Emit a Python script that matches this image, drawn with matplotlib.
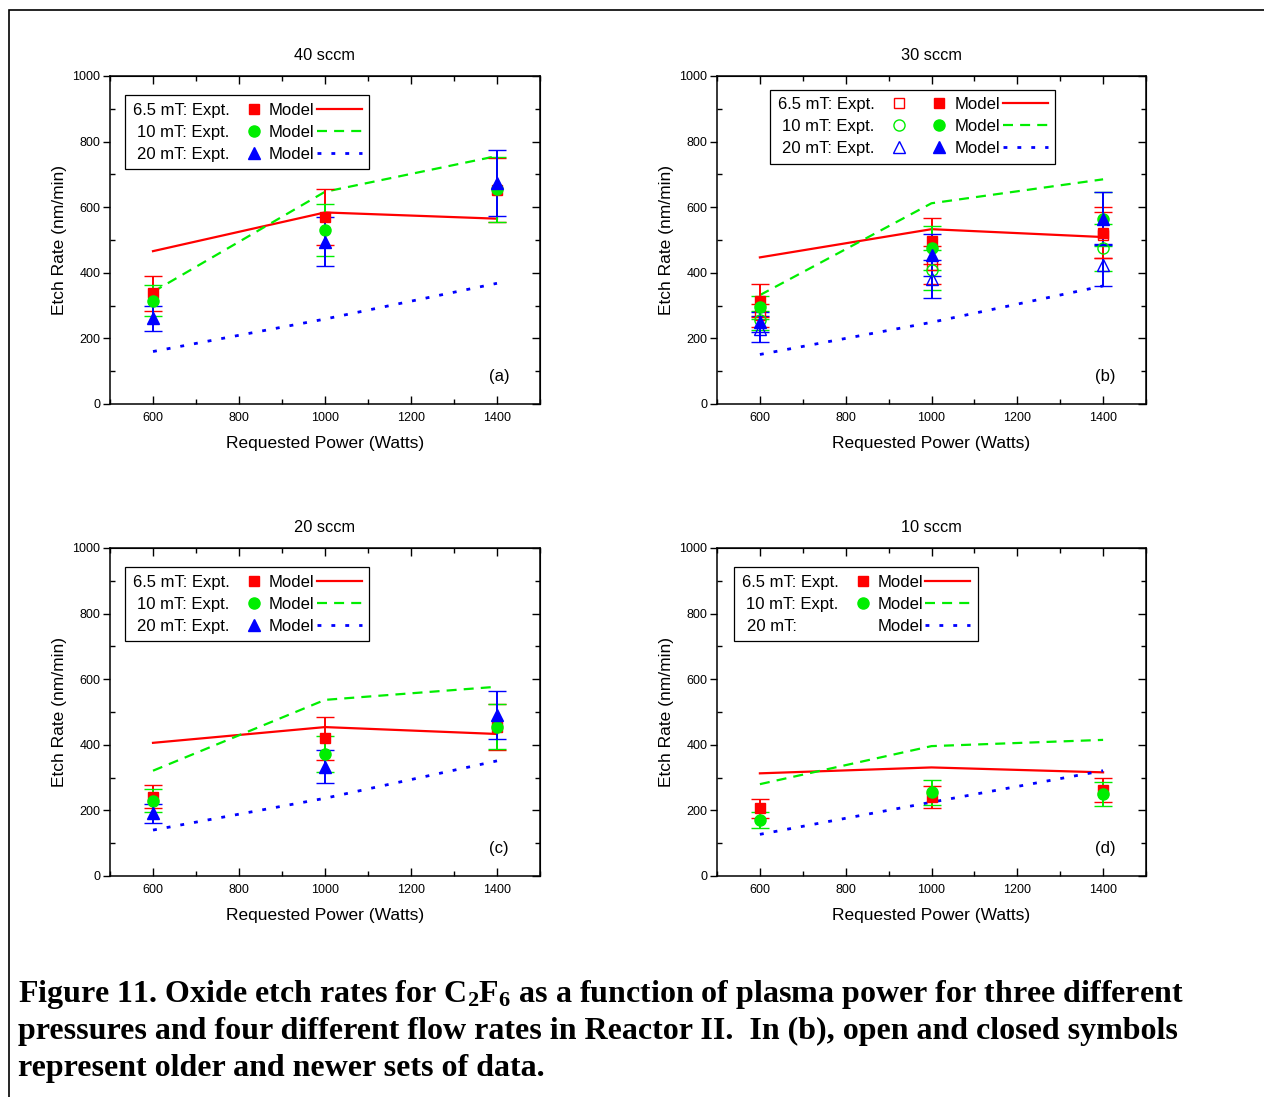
import matplotlib
matplotlib.use('Agg')
import matplotlib.pyplot as plt
from matplotlib.lines import Line2D
from matplotlib.patches import Rectangle
from matplotlib.ticker import MultipleLocator

plt.rcParams['font.family'] = ['Liberation Sans', 'DejaVu Sans']
plt.rcParams['mathtext.fontset'] = 'custom'
plt.rcParams['mathtext.rm'] = 'Liberation Serif:bold'
plt.rcParams['mathtext.it'] = 'Liberation Serif:bold'
plt.rcParams['mathtext.bf'] = 'Liberation Serif:bold'

# ---------------- data ----------------
power = [600, 1000, 1400]

titles = ["40 sccm", "30 sccm", "20 sccm", "10 sccm"]
panel_tags = ["(a)", "(b)", "(c)", "(d)"]

# (a) 40 sccm
a_model_65 = [466, 584, 565]
a_model_10 = [342, 647, 756]
a_model_20 = [160, 259, 368]
a_expt_65 = [337, 571, 652]
a_err_65 = [52, 85, 98]
a_expt_10 = [315, 530, 654]
a_err_10 = [47, 80, 98]
a_expt_20 = [261, 495, 673]
a_err_20 = [38, 74, 101]

# (b) 30 sccm  (new = closed symbols, old = open symbols)
b_model_65 = [447, 533, 509]
b_model_10 = [332, 612, 685]
b_model_20 = [151, 249, 360]
b_new_65 = [315, 498, 522]
b_new_err_65 = [50, 70, 78]
b_new_10 = [295, 476, 563]
b_new_err_10 = [35, 68, 82]
b_new_20 = [250, 454, 565]
b_new_err_20 = [30, 64, 80]
b_old_65 = [270, 424, 515]
b_old_err_65 = [35, 58, 70]
b_old_10 = [255, 408, 477]
b_old_err_10 = [30, 61, 71]
b_old_20 = [228, 381, 424]
b_old_err_20 = [40, 57, 64]

# (c) 20 sccm
c_model_65 = [406, 454, 433]
c_model_10 = [321, 537, 577]
c_model_20 = [140, 237, 351]
c_expt_65 = [242, 420, 455]
c_err_65 = [35, 65, 70]
c_expt_10 = [230, 372, 455]
c_err_10 = [35, 55, 68]
c_expt_20 = [191, 333, 491]
c_err_20 = [28, 50, 72]

# (d) 10 sccm
d_model_65 = [313, 331, 316]
d_model_10 = [280, 396, 415]
d_model_20 = [127, 225, 321]
d_expt_65 = [206, 240, 262]
d_err_65 = [30, 34, 37]
d_expt_10 = [171, 255, 249]
d_err_10 = [25, 38, 37]

caption_lines = [
    "Figure 11. Oxide etch rates for C$_2$F$_6$ as a function of plasma power for three different",
    "pressures and four different flow rates in Reactor II.  In (b), open and closed symbols",
    "represent older and newer sets of data.",
]

# ---------------- styles ----------------
RED = '#ff0000'
GREEN = '#00ee00'
BLUE = '#0000ff'
LS_65 = '-'
LS_10 = (0, (4.5, 3.2))
LS_20 = (0, (1.4, 3.6))
LW_65, LW_10, LW_20 = 1.6, 1.6, 2.0
LEG_FS = 12

W, H = 1264, 1097
fig = plt.figure(figsize=(W / 100, H / 100), dpi=100)


def px_axes(l, t, r, b):
    return fig.add_axes([l / W, 1 - b / H, (r - l) / W, (b - t) / H])


def style_axes(ax, title, tag):
    ax.set_xlim(500, 1500)
    ax.set_ylim(0, 1000)
    ax.xaxis.set_major_locator(MultipleLocator(200))
    ax.xaxis.set_minor_locator(MultipleLocator(100))
    ax.yaxis.set_major_locator(MultipleLocator(200))
    ax.yaxis.set_minor_locator(MultipleLocator(100))
    ax.tick_params(axis='x', which='both', direction='in', top=False, bottom=True,
                   labelsize=9, pad=6)
    ax.tick_params(axis='x', which='major', length=6, width=1)
    ax.tick_params(axis='x', which='minor', length=3.5, width=1)
    ax.tick_params(axis='y', which='major', direction='out', length=5, width=1,
                   labelsize=9, right=False, pad=2)
    ax.tick_params(axis='y', which='minor', direction='in', length=3.5, width=1,
                   right=False)
    for s in ax.spines.values():
        s.set_linewidth(1.1)
    sx = ax.secondary_xaxis('top')
    sx.xaxis.set_major_locator(MultipleLocator(200))
    sx.xaxis.set_minor_locator(MultipleLocator(100))
    sx.tick_params(axis='x', which='both', direction='in', labeltop=False, width=1)
    sx.tick_params(axis='x', which='major', length=6)
    sx.tick_params(axis='x', which='minor', length=3.5)
    sy = ax.secondary_yaxis('right')
    sy.yaxis.set_major_locator(MultipleLocator(200))
    sy.yaxis.set_minor_locator(MultipleLocator(100))
    sy.tick_params(axis='y', which='both', direction='in', labelright=False, width=1)
    sy.tick_params(axis='y', which='major', length=6)
    sy.tick_params(axis='y', which='minor', length=3.5)
    ax.set_title(title, fontsize=11.8, pad=11.5)
    ax.set_xlabel("Requested Power (Watts)", fontsize=12.5, labelpad=8.5)
    ax.set_ylabel("Etch Rate (nm/min)", fontsize=12.5, labelpad=3.5)
    ax.text(0.905, 0.085, tag, transform=ax.transAxes, fontsize=12,
            ha='center', va='center')


def models(ax, m65, m10, m20):
    ax.plot(power, m65, color=RED, ls=LS_65, lw=LW_65, zorder=2)
    ax.plot(power, m10, color=GREEN, ls=LS_10, lw=LW_10, zorder=2)
    ax.plot(power, m20, color=BLUE, ls=LS_20, lw=LW_20, dash_capstyle='butt', zorder=2)


def expt(ax, y, err, color, marker, ms, filled=True):
    ax.errorbar(power, y, yerr=err, fmt=marker, color=color, ms=ms,
                mfc=color if filled else 'none', mec=color,
                mew=1.0, capsize=6.5, elinewidth=1.4, capthick=1.4, zorder=3)


def make_legend(ax, handles, labels, ncol, anchor, colsp):
    leg = ax.legend(handles, labels, ncol=ncol, markerfirst=False, loc='upper left',
                    bbox_to_anchor=anchor, borderaxespad=0, fontsize=LEG_FS,
                    handlelength=2.7, handletextpad=0.12, columnspacing=colsp,
                    labelspacing=0.42, borderpad=0.45, fancybox=False,
                    edgecolor='black', framealpha=1)
    leg.get_frame().set_linewidth(0.9)
    return leg


def legend_std(ax, anchor, third_expt=True):
    h = [
        Line2D([], [], ls='none', marker='s', color=RED, ms=7),
        Line2D([], [], ls='none', marker='o', color=GREEN, ms=8),
        Line2D([], [], ls='none', marker='^' if third_expt else None, color=BLUE, ms=8),
        Line2D([], [], color=RED, ls=LS_65, lw=LW_65),
        Line2D([], [], color=GREEN, ls=LS_10, lw=LW_10),
        Line2D([], [], color=BLUE, ls=LS_20, lw=LW_20, dash_capstyle='butt'),
    ]
    lab3 = "20 mT: Expt." if third_expt else "20 mT:" + " " * 9
    labels = ["6.5 mT: Expt.", "10 mT: Expt.", lab3, "Model", "Model", "Model"]
    return make_legend(ax, h, labels, 2, anchor, -0.47)


# ---------------- panel (a) ----------------
ax = px_axes(110, 76, 540, 404)
models(ax, a_model_65, a_model_10, a_model_20)
expt(ax, a_expt_65, a_err_65, RED, 's', 7)
expt(ax, a_expt_10, a_err_10, GREEN, 'o', 8)
expt(ax, a_expt_20, a_err_20, BLUE, '^', 8)
style_axes(ax, titles[0], panel_tags[0])
legend_std(ax, (0.036, 0.942))

# ---------------- panel (b) ----------------
ax = px_axes(717, 76, 1146, 404)
models(ax, b_model_65, b_model_10, b_model_20)
expt(ax, b_old_65, b_old_err_65, RED, 's', 7, filled=False)
expt(ax, b_old_10, b_old_err_10, GREEN, 'o', 8, filled=False)
expt(ax, b_old_20, b_old_err_20, BLUE, '^', 8, filled=False)
expt(ax, b_new_65, b_new_err_65, RED, 's', 7)
expt(ax, b_new_10, b_new_err_10, GREEN, 'o', 8)
expt(ax, b_new_20, b_new_err_20, BLUE, '^', 8)
style_axes(ax, titles[1], panel_tags[1])
hb = [
    Line2D([], [], ls='none', marker='s', color=RED, mfc='none', ms=7),
    Line2D([], [], ls='none', marker='o', color=GREEN, mfc='none', ms=8),
    Line2D([], [], ls='none', marker='^', color=BLUE, mfc='none', ms=8),
    Line2D([], [], ls='none', marker='s', color=RED, ms=7),
    Line2D([], [], ls='none', marker='o', color=GREEN, ms=8),
    Line2D([], [], ls='none', marker='^', color=BLUE, ms=8),
    Line2D([], [], color=RED, ls=LS_65, lw=LW_65),
    Line2D([], [], color=GREEN, ls=LS_10, lw=LW_10),
    Line2D([], [], color=BLUE, ls=LS_20, lw=LW_20, dash_capstyle='butt'),
]
lb = ["6.5 mT: Expt.", "10 mT: Expt.", "20 mT: Expt.", "", "", "",
      "Model", "Model", "Model"]
make_legend(ax, hb, lb, 3, (0.124, 0.958), -0.4)

# ---------------- panel (c) ----------------
ax = px_axes(110, 548, 540, 876)
models(ax, c_model_65, c_model_10, c_model_20)
expt(ax, c_expt_65, c_err_65, RED, 's', 7)
expt(ax, c_expt_10, c_err_10, GREEN, 'o', 8)
expt(ax, c_expt_20, c_err_20, BLUE, '^', 8)
style_axes(ax, titles[2], panel_tags[2])
legend_std(ax, (0.036, 0.942))

# ---------------- panel (d) ----------------
ax = px_axes(717, 548, 1146, 876)
models(ax, d_model_65, d_model_10, d_model_20)
expt(ax, d_expt_65, d_err_65, RED, 's', 7)
expt(ax, d_expt_10, d_err_10, GREEN, 'o', 8)
style_axes(ax, titles[3], panel_tags[3])
legend_std(ax, (0.040, 0.942), third_expt=False)

# ---------------- frame & caption ----------------
fig.patches.append(Rectangle((9 / W, -0.05), 1.2, 1 - 10 / H + 0.05,
                             transform=fig.transFigure, fill=False,
                             edgecolor='black', linewidth=1.2, zorder=0))
for i, line in enumerate(caption_lines):
    fig.text(18 / W, 1 - (1002 + 37 * i) / H, line, fontsize=23,
             family='Liberation Serif', weight='bold', ha='left', va='baseline')

fig.savefig('out.png', dpi=100)
